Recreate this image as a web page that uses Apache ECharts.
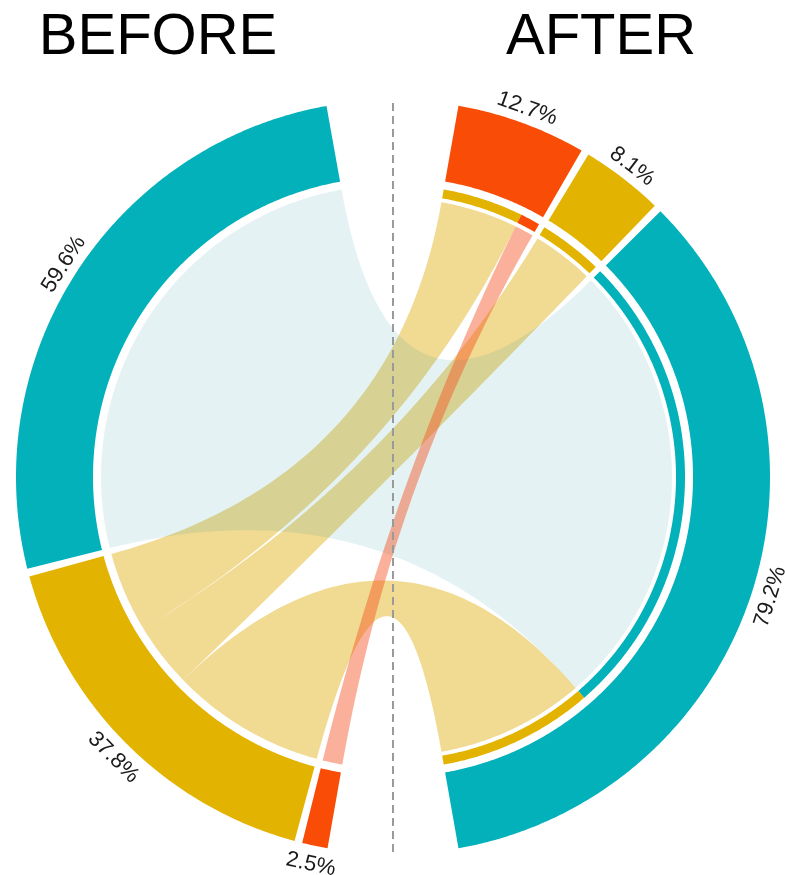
<!DOCTYPE html>
<html>
<head>
<meta charset="utf-8">
<script src="https://cdn.jsdelivr.net/npm/echarts@6/dist/echarts.min.js"></script>
<style>
  html, body { margin: 0; padding: 0; background: #ffffff; }
  #chart { width: 785px; height: 875px; }
</style>
</head>
<body>
<div id="chart"></div>
<script>
// ================= DATA =================
// groups (by colour), BEFORE and AFTER shares in % of total
const categories   = ['Teal', 'Gold', 'Red'];
const beforeShare  = [59.6, 37.8, 2.5];
const afterShare   = [79.2, 8.1, 12.7];
// flows from a BEFORE group (one array per group) to each AFTER group [Teal, Gold, Red]
const flowFromTeal = [59.6, 0, 0];
const flowFromGold = [19.6, 8.1, 10.2];
const flowFromRed  = [0, 0, 2.5];
const sideTitles   = ['BEFORE', 'AFTER'];

// ================= STYLE / LAYOUT =================
const COLORS      = ['#03b1bb', '#e2b300', '#f94c06'];
const LINK_COLORS = ['rgba(30,150,165,0.12)', 'rgba(222,170,0,0.43)', 'rgba(245,80,30,0.45)'];
const CENTER = [393, 477];
const R = { outer: 377, ringInner: 300, bandOuter: 292, bandInner: 283, leftLink: 292, rightLink: 279,
            labelTop: 381, labelBottom: 385 };
const LEFT_START = 190, RIGHT_START = 10, SPAN = 160, PAD = 1.2;
const SEG_ORDER = [2, 1, 0];       // ascending angle on each side: red, gold, teal
const SUB_ORDER = [0, 1, 2];       // within a segment: partner teal, gold, red
const LINK_DRAW_ORDER = [1, 0, 2]; // gold ribbons under teal, red on top
const K = (SPAN - 2 * PAD) / 100;  // degrees per percent

const flows = [flowFromTeal, flowFromGold, flowFromRed];

function layoutSide(shares, start) {
  const segs = [];
  let a = start;
  SEG_ORDER.forEach(g => {
    const w = shares[g] * K;
    segs[g] = { g: g, a0: a, a1: a + w, share: shares[g] };
    a += w + PAD;
  });
  return segs;
}
const leftSegs = layoutSide(beforeShare, LEFT_START);
const rightSegs = layoutSide(afterShare, RIGHT_START);

const leftSub = {}, rightSub = {};
leftSegs.forEach(seg => {
  const i = seg.g;
  const tot = flows[i].reduce((s, v) => s + v, 0);
  let a = seg.a0;
  SUB_ORDER.forEach(j => {
    const w = flows[i][j] / tot * (seg.a1 - seg.a0);
    if (w > 0) leftSub[i + '_' + j] = [a, a + w];
    a += w;
  });
});
rightSegs.forEach(seg => {
  const j = seg.g;
  const tot = flows.reduce((s, row) => s + row[j], 0);
  let a = seg.a0;
  SUB_ORDER.forEach(i => {
    const w = flows[i][j] / tot * (seg.a1 - seg.a0);
    if (w > 0) rightSub[i + '_' + j] = [a, a + w];
    a += w;
  });
});

// items
const ringItems = leftSegs.concat(rightSegs).map(s => ({ a0: s.a0, a1: s.a1, color: COLORS[s.g] }));
const bandItems = [];
Object.keys(rightSub).forEach(k => {
  const i = +k.split('_')[0];
  bandItems.push({ a0: rightSub[k][0], a1: rightSub[k][1], color: COLORS[i] });
});
const linkItems = [];
LINK_DRAW_ORDER.forEach(i => {
  SUB_ORDER.forEach(j => {
    const k = i + '_' + j;
    if (leftSub[k] && rightSub[k]) linkItems.push({ s: leftSub[k], t: rightSub[k], color: LINK_COLORS[i] });
  });
});
const labelItems = leftSegs.concat(rightSegs).map(s => ({ mid: (s.a0 + s.a1) / 2, text: s.share.toFixed(1) + '%' }));

// ================= GEOMETRY HELPERS (through polar scale) =================
function arc(api, r, a0, a1) {
  const n = Math.max(2, Math.ceil(Math.abs(a1 - a0) / 0.4) + 1);
  const pts = [];
  for (let s = 0; s < n; s++) pts.push(api.coord([r, a0 + (a1 - a0) * s / (n - 1)]));
  return pts;
}
function ringPiece(api, r0, r1, a0, a1) {
  return arc(api, r1, a0, a1).concat(arc(api, r0, a1, a0));
}
function quad(p0, c, p2) {
  const pts = [];
  const n = 60;
  for (let s = 1; s < n; s++) {
    const t = s / n, u = 1 - t;
    pts.push([u * u * p0[0] + 2 * u * t * c[0] + t * t * p2[0],
              u * u * p0[1] + 2 * u * t * c[1] + t * t * p2[1]]);
  }
  return pts;
}
function ribbon(api, it) {
  const c = api.coord([0, 0]);
  const A = arc(api, R.leftLink, it.s[0], it.s[1]);
  const B = arc(api, R.rightLink, it.t[0], it.t[1]);
  return A.concat(quad(A[A.length - 1], c, B[0]), B, quad(B[B.length - 1], c, A[0]));
}

// ================= CHART =================
const chart = echarts.init(document.getElementById('chart'));
chart.setOption({
  animation: false,
  backgroundColor: '#ffffff',
  polar: { center: CENTER, radius: R.outer },
  angleAxis: { type: 'value', min: 0, max: 360, startAngle: 90, clockwise: true, show: false },
  radiusAxis: { type: 'value', min: 0, max: R.outer, show: false },
  graphic: sideTitles.map((t, k) => ({
    type: 'text', x: k === 0 ? 158 : 601, y: 38,
    style: { text: t, font: '58px "Liberation Sans", Arial, sans-serif', fill: '#000',
             textAlign: 'center', textVerticalAlign: 'middle' }
  })),
  series: [
    {
      type: 'custom', coordinateSystem: 'polar', clip: false,
      data: ringItems.map(it => [(R.outer + R.ringInner) / 2, (it.a0 + it.a1) / 2]),
      renderItem: (params, api) => {
        const it = ringItems[params.dataIndex];
        return { type: 'polygon', shape: { points: ringPiece(api, R.ringInner, R.outer, it.a0, it.a1) },
                 style: { fill: it.color } };
      }
    },
    {
      type: 'custom', coordinateSystem: 'polar', clip: false,
      data: bandItems.map(it => [(R.bandOuter + R.bandInner) / 2, (it.a0 + it.a1) / 2]),
      renderItem: (params, api) => {
        const it = bandItems[params.dataIndex];
        return { type: 'polygon', shape: { points: ringPiece(api, R.bandInner, R.bandOuter, it.a0, it.a1) },
                 style: { fill: it.color } };
      }
    },
    {
      type: 'custom', coordinateSystem: 'polar', clip: false,
      data: linkItems.map(it => [0, (it.s[0] + it.t[0]) / 2]),
      renderItem: (params, api) => {
        const it = linkItems[params.dataIndex];
        return { type: 'polygon', shape: { points: ribbon(api, it) }, style: { fill: it.color } };
      }
    },
    {
      type: 'custom', coordinateSystem: 'polar', clip: false,
      data: [[R.outer, 0]],
      renderItem: (params, api) => {
        const p0 = api.coord([R.outer - 3, 0]);
        const p1 = api.coord([R.outer + 2, 180]);
        return { type: 'line', shape: { x1: p0[0], y1: p0[1], x2: p1[0], y2: p1[1] },
                 style: { stroke: '#9a9a9a', lineWidth: 2, lineDash: [8, 5] } };
      }
    },
    {
      type: 'custom', coordinateSystem: 'polar', clip: false,
      data: labelItems.map(it => [R.labelTop, it.mid]),
      renderItem: (params, api) => {
        const it = labelItems[params.dataIndex];
        const top = (it.mid < 90 || it.mid > 270);
        const cw = top ? (it.mid > 180 ? it.mid - 360 : it.mid) : it.mid - 180;
        const p = api.coord([top ? R.labelTop : R.labelBottom, it.mid]);
        return { type: 'text', x: p[0], y: p[1], rotation: -cw * Math.PI / 180,
                 style: { text: it.text, font: '22px "Liberation Sans", Arial, sans-serif', fill: '#1a1a1a',
                          align: 'center', verticalAlign: top ? 'bottom' : 'top' } };
      }
    }
  ]
});
</script>
</body>
</html>
